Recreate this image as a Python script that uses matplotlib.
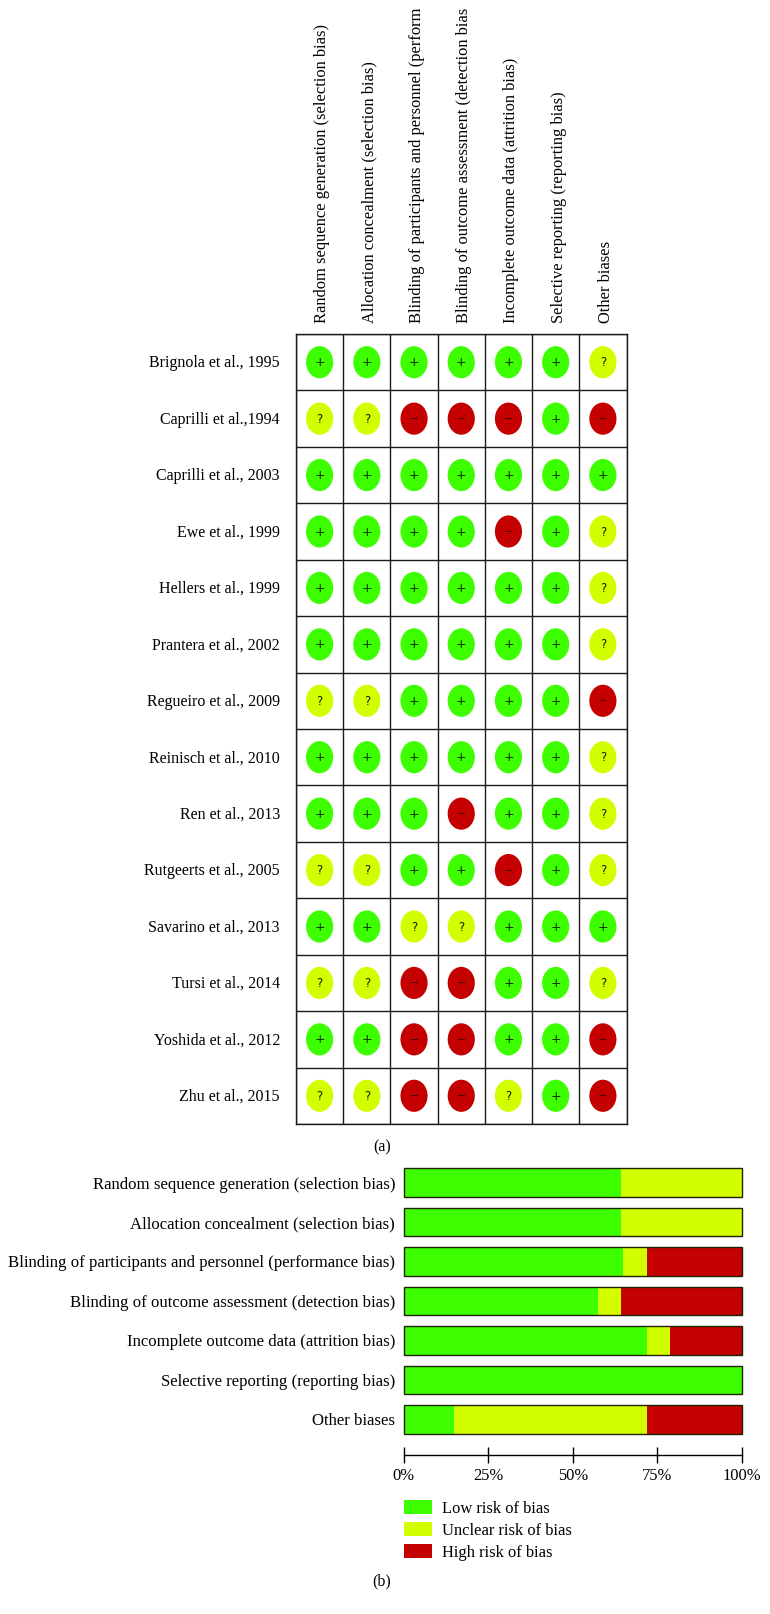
import matplotlib
matplotlib.use('Agg')
import matplotlib.pyplot as plt
from matplotlib.patches import Ellipse, Patch, Rectangle
from matplotlib.transforms import Bbox

W, H = 770, 1614
GREEN = '#3dff00'
YELLOW = '#d2ff00'
RED = '#c40000'

plt.rcParams['font.family'] = ['Liberation Serif', 'DejaVu Serif']

studies = ['Brignola et al., 1995', 'Caprilli et al.,1994', 'Caprilli et al., 2003',
           'Ewe et al., 1999', 'Hellers et al., 1999', 'Prantera et al., 2002',
           'Regueiro et al., 2009', 'Reinisch et al., 2010', 'Ren et al., 2013',
           'Rutgeerts et al., 2005', 'Savarino et al., 2013', 'Tursi et al., 2014',
           'Yoshida et al., 2012', 'Zhu et al., 2015']

domains = ['Random sequence generation (selection bias)',
           'Allocation concealment (selection bias)',
           'Blinding of participants and personnel (performance bias)',
           'Blinding of outcome assessment (detection bias)',
           'Incomplete outcome data (attrition bias)',
           'Selective reporting (reporting bias)',
           'Other biases']

ratings = ['++++++?', '??---+-', '+++++++', '++++-+?', '++++++?', '++++++?',
           '??++++-', '++++++?', '+++-++?', '??++-+?', '++??+++', '??--++?',
           '++--++-', '??--?+-']

low = [64.4, 64.4, 64.9, 57.5, 71.8, 100, 14.8]
unclear = [35.6, 35.6, 7.0, 6.9, 6.9, 0, 57.0]
high = [0, 0, 28.1, 35.6, 21.3, 0, 28.2]

legend_labels = ['Low risk of bias', 'Unclear risk of bias', 'High risk of bias']
pct_ticks = [0, 25, 50, 75, 100]
pct_labels = ['0%', '25%', '50%', '75%', '100%']


def axes_px(fig, left, top, right, bottom):
    return fig.add_axes([left / W, 1 - bottom / H, (right - left) / W, (bottom - top) / H])


fig = plt.figure(figsize=(W / 100, H / 100), dpi=100)

# (a) summary grid
ax = axes_px(fig, 296, 334, 626.5, 1124)
ax.set_xlim(0, len(domains))
ax.set_ylim(len(studies), 0)
ax.set_xticks(range(len(domains) + 1))
ax.set_yticks(range(len(studies) + 1))
ax.tick_params(length=0, labelbottom=False, labelleft=False)
ax.grid(True, color='#1a1a1a', linewidth=1.0)
ax.set_axisbelow(True)
for s in ax.spines.values():
    s.set_linewidth(1.0)
    s.set_color('#1a1a1a')

styles = {'+': (GREEN, '+', 9, '#0a2a00'), '?': (YELLOW, '?', 8.5, '#1a1a00'), '-': (RED, '\u2212', 8, '#3a0500')}
for i, row in enumerate(ratings):
    ax.text(-0.34, i + 0.52, studies[i], ha='right', va='center', fontsize=11.5)
    for j, r in enumerate(row):
        colour, sym, size, sym_colour = styles[r]
        ax.add_patch(Ellipse((j + 0.5, i + 0.5), 0.575, 0.57, facecolor=colour, edgecolor='none'))
        ax.text(j + 0.5, i + 0.51, sym, ha='center', va='center', fontsize=size, color=sym_colour,
                family='DejaVu Sans', zorder=5)

clip = Bbox([[0, 0], [W, H - 9]])
for j, d in enumerate(domains):
    t = ax.text(j + 0.56, -0.2, d, rotation=90, ha='center', va='bottom', fontsize=11.9, clip_on=True)
    t.set_clip_box(clip)

fig.text(382 / W, 1 - 1147 / H, '(a)', ha='center', va='center', fontsize=11.5)

# (b) summary bars
bx = axes_px(fig, 403.5, 1160, 742, 1455)
pos = list(range(len(domains)))
bx.set_xlim(0, 100)
bx.set_ylim(6.9, -0.57)
left2 = [a + b for a, b in zip(low, unclear)]
bx.barh(pos, low, height=0.73, color=GREEN)
bx.barh(pos, unclear, height=0.73, left=low, color=YELLOW)
bx.barh(pos, high, height=0.73, left=left2, color=RED)
for p in pos:
    bx.add_patch(Rectangle((0, p - 0.365), 100, 0.73, fill=False, edgecolor='#222200', linewidth=1.0, clip_on=False))

for s in ['top', 'left', 'right']:
    bx.spines[s].set_visible(False)
bx.spines['bottom'].set_linewidth(1)
bx.set_yticks(pos)
bx.set_yticklabels(domains, fontsize=12.05)
bx.tick_params(axis='y', length=0, pad=6)
bx.set_xticks(pct_ticks)
bx.set_xticklabels(pct_labels, fontsize=11.9)
bx.tick_params(axis='x', direction='inout', length=12, width=1, pad=3)

handles = [Patch(facecolor=c, edgecolor='none') for c in [GREEN, YELLOW, RED]]
fig.legend(handles, legend_labels, loc='upper left', bbox_to_anchor=(403.5 / W, 1 - 1500 / H),
           frameon=False, fontsize=11.9, borderpad=0, borderaxespad=0, handlelength=1.7,
           handleheight=0.9, labelspacing=0.34, handletextpad=0.65)

fig.text(382 / W, 1 - 1581 / H, '(b)', ha='center', va='center', fontsize=11.5)

fig.savefig('out.png', dpi=100)
